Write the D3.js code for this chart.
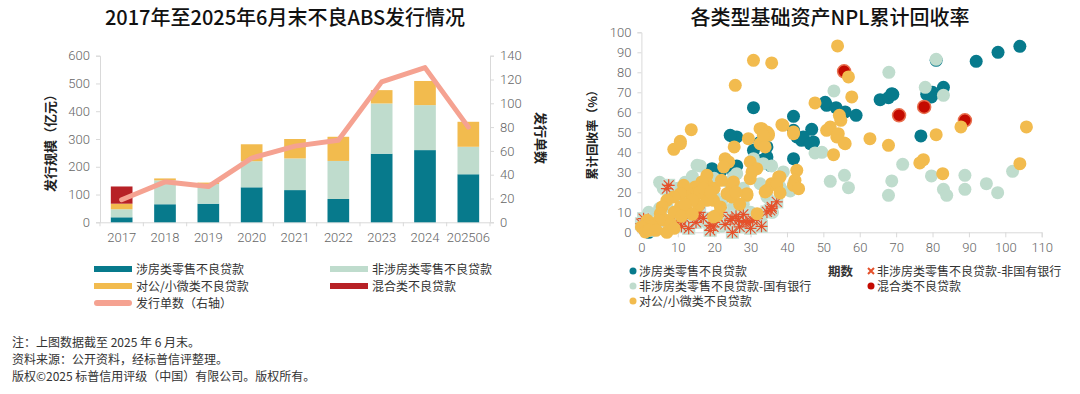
<!DOCTYPE html>
<html><head><meta charset="utf-8">
<script src="https://cdn.jsdelivr.net/npm/d3@7"></script>
<style>
body{margin:0;background:#fff;}
svg{font-family:"Noto Sans CJK SC","Noto Sans",sans-serif;}
.tick text{font-family:Roboto,"Noto Sans CJK SC",sans-serif;font-size:13px;fill:#666;font-weight:300;}
</style></head>
<body>
<svg id="c" width="1080" height="394"></svg>
<script>
// ---------- Left chart data ----------
const years = ["2017","2018","2019","2020","2021","2022","2023","2024","202506"];
const housing = [18,65,67,126,116,84,247,260,173];
const nonHousing = [29,86,71,94,114,137,181,162,99];
const corporate = [20,7,5,61,70,87,48,87,90];
const mixed = [62,0,0,0,0,0,0,0,0];
const dealCount = [19,34,30,54,64,69,118,130,80];
const leftTicks = [0,100,200,300,400,500,600];
const rightTicks = [0,20,40,60,80,100,120,140];
const barSeriesNames = ["涉房类零售不良贷款","非涉房类零售不良贷款","对公/小微类不良贷款","混合类不良贷款"];
const lineName = "发行单数（右轴）";

// ---------- Right chart data ([periods, recovery %]) ----------
const sHousing = [[104,93],[98,90],[92,85.5],[81,86],[78.4,69],[80,70],[83,72.5],[79.7,67.7],[68.8,69.3],[65.6,66.3],[67.9,67.3],[69.1,69],[76.8,48.2],[50.9,63.5],[53.5,62.3],[56,60.2],[59,58.5],[50.5,65],[41.8,58],[46.8,51.5],[47.3,45.2],[41.8,51],[42.7,47.7],[44,46],[44.5,47.7],[46.4,44.3],[41.8,36.8],[30.8,62.3],[25.3,47.7],[26.2,47.7],[24.4,48.5],[30.8,41],[34.5,37.7],[33.1,36],[35.4,33.5],[32.6,45],[34.5,42.7],[20.3,29.3],[21.7,30.2],[26.2,33.2],[19.4,31.8],[25.3,30.2],[1,1],[2,0],[3,2]];
const sNonHousingState = [[81,86.5],[68,80],[78,72.5],[83,68.5],[52.9,70.7],[49.6,40],[47.7,39.7],[71.8,34],[55.8,28.5],[51.9,25.5],[56.9,22.3],[68.8,25.7],[67.9,18.5],[79.7,28.2],[88.9,28.5],[94.8,24.3],[97.9,19.8],[88.9,21.5],[83,21.5],[83.9,18.5],[102,30.5],[30.8,36.8],[16.2,33.2],[15.3,33.5],[26.2,29.3],[35.8,33.2],[33.5,34.3],[39,30.2],[40.9,20.7],[41.8,24.3],[38.1,22.7],[34.5,17.7],[35.8,13.5],[36.2,14.3],[32.6,24.3],[25.3,27.7],[31.7,7.7],[5,12],[8,18],[10,22],[12,25],[14,20],[18,22],[20,18],[22,15],[25,12],[28,14],[30,10],[33,8],[36,10],[15,8],[18,5],[12,3],[8,6],[3,4],[26,5],[22,3],[30,3],[24,25],[28,22],[20,27],[14,28],[2,10],[6,22],[11,16],[7,13],[9,20],[5,25]];
const sNonHousingOther = [[7.5,23.5],[7,21.8],[35.8,12.7],[37.2,15.2],[35.4,11],[35.8,11.8],[6,6],[9,5],[10.7,6],[15.3,7.7],[18.9,3.5],[19.8,2.7],[24.4,6],[24.9,6.8],[26.7,6],[28.7,5.5],[30.6,6],[29,5],[31.7,6.8],[34.5,10.2],[27,2.7],[18.9,1],[0,4.3],[0.6,6.8],[1.5,4.3],[13,2],[15,5],[17,7],[21,8],[23,4],[26,8],[28,9],[30,2],[33,3],[11,3],[4,2],[2,1],[22,10],[12,7],[16,10],[25,0],[20,5]];
const sMixed = [[55.7,80.5],[70.8,58.5],[77.7,62.7],[88.9,56]];
const sCorporate = [[53.9,93.2],[56.9,77.7],[57.8,67.7],[47.7,64.7],[62.8,46.8],[67.9,43.5],[87.8,52.7],[105.8,52.7],[81,48.8],[77.5,36.3],[76.5,34.7],[82.8,29.3],[104,34.3],[52.8,38.8],[53.7,47.7],[55.7,44.7],[51.9,52.7],[54.4,58.5],[54.8,56],[50.9,51],[54.1,49.3],[56,44.3],[35.8,84.7],[38.9,53.5],[41.8,50.2],[34.9,49.3],[33.1,51.8],[30.8,86],[25.8,73.5],[13.7,51.3],[10.7,45.5],[8.9,41.5],[10.7,44.3],[32.6,51.8],[34.5,50.2],[29.4,46.8],[41.8,49.3],[38.6,53.8],[34.9,48.5],[32.6,44.3],[33.5,48.5],[25.5,42.7],[34,42.7],[29.9,35.2],[23,36.8],[24,35.2],[22.6,32.7],[31.7,31.8],[30.4,30.2],[29.9,26.8],[38.1,27.7],[37.7,27.7],[35.8,24.3],[37.2,23.5],[34.5,21],[34,20.2],[38.1,19.7],[42.7,31],[42.2,26],[41.8,23.5],[43.2,21.8],[24.8,23.5],[25.3,25.2],[29,18.5],[29,19.3],[18,28.5],[18,24.3],[16.6,25.2],[14.8,22.7],[13.4,19.3],[15.3,19.3],[11.6,23.5],[10.7,19.3],[8.9,17.7],[7,16],[5.7,12.7],[5.2,9.3],[6.6,6],[8,4.3],[1.6,6],[0,2.7],[1.1,0.2],[7,0],[19.8,16],[21.7,12.7],[20.8,8.5],[19.8,7.7],[23.5,19.3],[24.8,17.7],[31.8,9.3],[18,16],[10.7,12.7],[12.5,11],[15.7,13.5],[4.8,6],[16,20],[14,16],[12,14],[9,10],[3,3],[2,1],[17,22],[20,22],[22,26],[19,20],[26,20],[27,14],[11,8],[14,9],[4,1],[9,2]];
const xTicksR = [0,10,20,30,40,50,60,70,80,90,100,110];
const yTicksR = [0,10,20,30,40,50,60,70,80,90,100];
const scatterNames = ["涉房类零售不良贷款","非涉房类零售不良贷款-非国有银行","非涉房类零售不良贷款-国有银行","混合类不良贷款","对公/小微类不良贷款"];

const footnotes = ["注：上图数据截至 2025 年 6 月末。","资料来源：公开资料，经标普信评整理。","版权©2025 标普信用评级（中国）有限公司。版权所有。"];

const C = {teal:"#077a8c", green:"#bfdccd", yellow:"#f2bb4e", red:"#b72126", line:"#f5a291", cross:"#e5512b", sred:"#c40a00", axis:"#d9d9d9"};

const svg = d3.select("#c");

// ================= LEFT CHART =================
const L = {x0:100, x1:490, y0:222.3, y1:55.7};
const x = d3.scaleBand().domain(years).range([L.x0, L.x1]).paddingInner(0.5).paddingOuter(0.25);
const y = d3.scaleLinear().domain([0,600]).range([L.y0, L.y1]);
const y2 = d3.scaleLinear().domain([0,140]).range([L.y0, L.y1]);

svg.append("text").attr("x",285).attr("y",25).attr("text-anchor","middle")
  .attr("font-size",20).attr("font-weight",500).attr("fill","#111").text("2017年至2025年6月末不良ABS发行情况");

const gl = svg.append("g");
const ax = gl.append("g").attr("transform",`translate(${L.x0},0)`).call(d3.axisLeft(y).tickValues(leftTicks).tickSize(4).tickPadding(6));
ax.select(".domain").attr("stroke",C.axis);
ax.selectAll(".tick line").attr("stroke",C.axis);
const ax2 = gl.append("g").attr("transform",`translate(${L.x1},0)`).call(d3.axisRight(y2).tickValues(rightTicks).tickSize(4).tickPadding(6));
ax2.select(".domain").attr("stroke",C.axis);
ax2.selectAll(".tick line").attr("stroke",C.axis);
const axb = gl.append("g").attr("transform",`translate(0,${L.y0})`).call(d3.axisBottom(x).tickSize(0).tickPadding(10));
axb.select(".domain").attr("stroke",C.axis);
gl.selectAll("line.bt").data(years.concat(["end"])).join("line").attr("class","bt")
  .attr("x1",(d,i)=> L.x0 + i*x.step()).attr("x2",(d,i)=> L.x0 + i*x.step())
  .attr("y1",L.y0).attr("y2",L.y0+4).attr("stroke",C.axis);

const stackData = years.map((yr,i)=>({yr, a:housing[i], b:nonHousing[i], c:corporate[i], d:mixed[i]}));
const stack = d3.stack().keys(["a","b","c","d"])(stackData);
const cols = [C.teal, C.green, C.yellow, C.red];
stack.forEach((s,k)=>{
  gl.append("g").selectAll("rect").data(s).join("rect")
    .attr("x",d=>x(d.data.yr)).attr("width",x.bandwidth())
    .attr("y",d=>y(d[1])).attr("height",d=>Math.max(0,y(d[0])-y(d[1])))
    .attr("fill",cols[k]);
});
gl.append("path").datum(dealCount)
  .attr("d", d3.line().x((d,i)=>x(years[i])+x.bandwidth()/2).y(d=>y2(d)))
  .attr("fill","none").attr("stroke",C.line).attr("stroke-width",5).attr("stroke-linejoin","round").attr("stroke-linecap","round");

svg.append("text").attr("transform","translate(55,140) rotate(-90)").attr("text-anchor","middle")
  .attr("font-size",13).attr("fill","#222").attr("font-weight",600).text("发行规模（亿元）");
svg.append("text").attr("transform","translate(536,138) rotate(90)").attr("text-anchor","middle")
  .attr("font-size",13).attr("fill","#222").attr("font-weight",600).text("发行单数");

const legItems = [
  {n:barSeriesNames[0], c:C.teal, x:94, y:269},
  {n:barSeriesNames[1], c:C.green, x:330, y:269},
  {n:barSeriesNames[2], c:C.yellow, x:94, y:286},
  {n:barSeriesNames[3], c:C.red, x:330, y:286},
  {n:lineName, c:C.line, x:94, y:303, line:true}
];
legItems.forEach(it=>{
  svg.append("rect").attr("x",it.x).attr("y",it.y-3).attr("width",38).attr("height",6)
    .attr("rx",it.line?3:0).attr("fill",it.c);
  svg.append("text").attr("x",it.x+42).attr("y",it.y+4.5).attr("font-size",12).attr("fill","#333").text(it.n);
});

footnotes.forEach((t,i)=>{
  svg.append("text").attr("x",12).attr("y",347+i*17).attr("font-size",12).attr("fill","#333").text(t);
});

// ================= RIGHT CHART =================
const R = {x0:641.4, x1:1041.7, y0:232.3, y1:32.3};
const xs = d3.scaleLinear().domain([0,110]).range([R.x0,R.x1]);
const ys = d3.scaleLinear().domain([0,100]).range([R.y0,R.y1]);

svg.append("text").attr("x",830).attr("y",25).attr("text-anchor","middle")
  .attr("font-size",20).attr("font-weight",500).attr("fill","#111").text("各类型基础资产NPL累计回收率");

const gr = svg.append("g");
const rx = gr.append("g").attr("transform",`translate(0,${R.y0})`).call(d3.axisBottom(xs).tickValues(xTicksR).tickSize(5).tickPadding(5));
rx.select(".domain").attr("stroke",C.axis); rx.selectAll(".tick line").attr("stroke",C.axis);
const ry = gr.append("g").attr("transform",`translate(${R.x0},0)`).call(d3.axisLeft(ys).tickValues(yTicksR).tickSize(4).tickPadding(6));
ry.select(".domain").attr("stroke",C.axis); ry.selectAll(".tick line").attr("stroke",C.axis);

const rad = 6.5;
function dots(data, fill, stroke){
  gr.append("g").selectAll("circle").data(data).join("circle")
    .attr("cx",d=>xs(d[0])).attr("cy",d=>ys(d[1])).attr("r",rad)
    .attr("fill",fill).attr("stroke",stroke||"none").attr("stroke-width",stroke?1.5:0);
}
dots(sHousing, C.teal);
dots(sNonHousingState, C.green);
const gx = gr.append("g");
gx.selectAll("rect").data(sNonHousingOther).join("rect")
  .attr("x",d=>xs(d[0])-6.5).attr("y",d=>ys(d[1])-6.5).attr("width",13).attr("height",13).attr("fill","#c6e0d3");
const star = "M-5,-5L5,5M-5,5L5,-5M0,-6L0,6M-6,0L6,0";
gx.selectAll("path").data(sNonHousingOther).join("path")
  .attr("transform",d=>`translate(${xs(d[0])},${ys(d[1])})`).attr("d",star)
  .attr("stroke",C.cross).attr("stroke-width",1.2).attr("fill","none");
dots(sMixed, C.sred, "#e8704f");
dots(sCorporate, C.yellow);

svg.append("text").attr("transform","translate(597,132) rotate(-90)").attr("text-anchor","middle")
  .attr("font-size",12).attr("fill","#222").attr("font-weight",600).text("累计回收率（%）");
svg.append("text").attr("x",828).attr("y",276).attr("font-size",12.5).attr("font-weight","bold").attr("fill","#333").text("期数");

const sleg = [
  {n:scatterNames[0], c:C.teal, x:633, y:271},
  {n:scatterNames[2], c:C.green, x:633, y:286},
  {n:scatterNames[4], c:C.yellow, x:633, y:301},
  {n:scatterNames[1], c:C.cross, x:871, y:271, cross:true},
  {n:scatterNames[3], c:C.sred, x:871, y:286}
];
sleg.forEach(it=>{
  if(it.cross){
    svg.append("path").attr("transform",`translate(${it.x},${it.y})`).attr("d","M-3,-3L3,3M-3,3L3,-3")
      .attr("stroke",it.c).attr("stroke-width",2);
  } else {
    svg.append("circle").attr("cx",it.x).attr("cy",it.y).attr("r",3.5).attr("fill",it.c);
  }
  svg.append("text").attr("x",it.x+6).attr("y",it.y+4.5).attr("font-size",12).attr("fill","#333").text(it.n);
});
</script>
</body></html>
